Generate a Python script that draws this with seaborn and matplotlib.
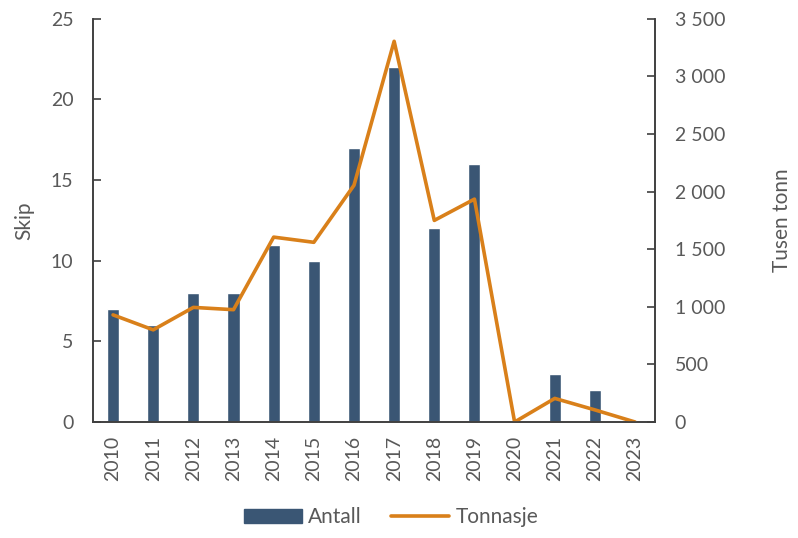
import numpy as np
import pandas as pd
import matplotlib
matplotlib.use('Agg')
import matplotlib.pyplot as plt
import seaborn as sns
from matplotlib.patches import Patch
from matplotlib.lines import Line2D
from matplotlib.ticker import FuncFormatter

years = ['2010', '2011', '2012', '2013', '2014', '2015', '2016',
         '2017', '2018', '2019', '2020', '2021', '2022', '2023']
antall = [7, 6, 8, 8, 11, 10, 17, 22, 12, 16, 0, 3, 2, 0]
tonnasje = [930, 800, 995, 975, 1605, 1560, 2055, 3305, 1750, 1935, 0, 205, 105, 0]

bar_color = '#3A5674'
line_color = '#D9801A'
text_color = '#595959'

sns.set_theme(style='white')
plt.rcParams['font.family'] = ['Lato', 'DejaVu Sans']

df = pd.DataFrame({'year': years, 'antall': antall, 'tonnasje': tonnasje})

fig, ax = plt.subplots(figsize=(7.98, 5.38), dpi=100)
fig.subplots_adjust(left=0.1165, right=0.821, top=0.965, bottom=0.2156)

sns.barplot(data=df, x='year', y='antall', color=bar_color, width=0.3,
            saturation=1, ax=ax)
ax.set_xlim(-0.5, len(years) - 0.5)
ax.set_ylim(0, 25)
ax.set_yticks([0, 5, 10, 15, 20, 25])
ax.set_xlabel('')
ax.set_ylabel('Skip', fontsize=15, color=text_color, labelpad=12)

ax2 = ax.twinx()
sns.lineplot(x=np.arange(len(years)), y=df['tonnasje'], color=line_color,
             linewidth=2.6, ax=ax2)
ax2.set_ylim(0, 3500)
ax2.set_yticks(range(0, 3501, 500))
ax2.yaxis.set_major_formatter(FuncFormatter(lambda v, p: f'{int(v):,}'.replace(',', ' ')))
ax2.set_ylabel('Tusen tonn', fontsize=15, color=text_color, labelpad=34)
ax2.set_xlim(-0.5, len(years) - 0.5)

for a in (ax, ax2):
    for s in a.spines.values():
        s.set_color('#404040')
        s.set_linewidth(1.2)
    a.spines['top'].set_visible(False)
    a.tick_params(axis='y', direction='in', length=6, width=1.2, color='#404040',
                  labelsize=14, labelcolor=text_color, pad=14)
ax.tick_params(axis='x', length=0, labelsize=14, labelcolor=text_color,
               labelrotation=90, pad=10)

handles = [Patch(color=bar_color, label='Antall'),
           Line2D([0], [0], color=line_color, linewidth=2.6, label='Tonnasje')]
fig.legend(handles=handles, loc='lower center', ncol=2, frameon=False,
           fontsize=15, labelcolor=text_color, bbox_to_anchor=(0.49, -0.015),
           handlelength=2.8, columnspacing=1.4, handletextpad=0.3)

fig.savefig('out.png', dpi=100)
